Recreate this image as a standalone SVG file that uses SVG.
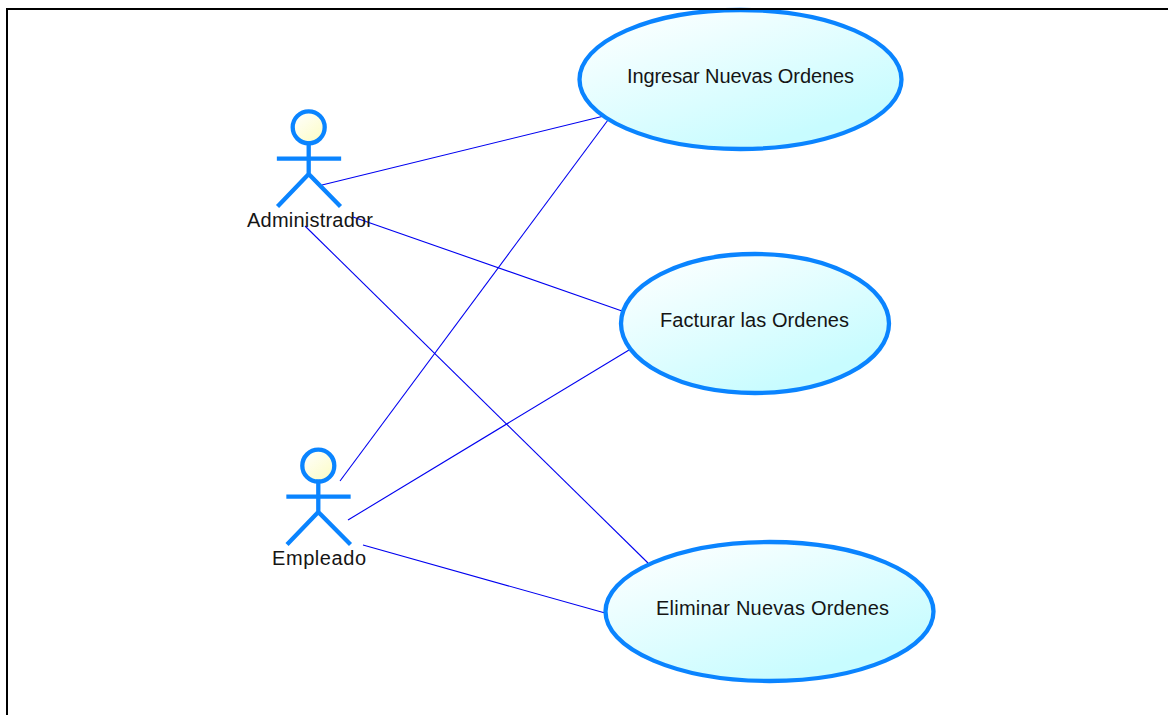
<svg xmlns="http://www.w3.org/2000/svg" width="1168" height="715" viewBox="0 0 1168 715">
<style>
.uc{stroke:#0A84FF;stroke-width:4.300;fill:url(#ucFill)}
.head{stroke:#0A84FF;stroke-width:4.300;fill:url(#headFill)}
.limb{stroke:#0A84FF;stroke-width:4.300;fill:none;stroke-linecap:square}
.conn{stroke:#0000F0;stroke-width:1.100;fill:none}
text{font-family:"Liberation Sans",Arial,sans-serif;font-size:20px;fill:#151515}
</style>
<defs>
<linearGradient id="ucFill" x1="0.1" y1="0" x2="0.85" y2="1"><stop offset="0" stop-color="#FFFFFF"/><stop offset="0.85" stop-color="#C8FCFF"/></linearGradient>
<linearGradient id="headFill" x1="0.1" y1="0" x2="0.85" y2="1"><stop offset="0" stop-color="#FFFFFF"/><stop offset="1" stop-color="#FCFCC4"/></linearGradient>
</defs>
<rect width="1168" height="715" fill="#fff"/>
<g id="connectors">
<line class="conn" x1="322" y1="185" x2="604" y2="116"/>
<line class="conn" x1="353" y1="217" x2="622" y2="311"/>
<line class="conn" x1="305" y1="226" x2="648" y2="563"/>
<line class="conn" x1="340" y1="481" x2="608" y2="120"/>
<line class="conn" x1="348" y1="520" x2="629" y2="350"/>
<line class="conn" x1="363" y1="545" x2="605" y2="613"/>
</g>
<g id="actor-administrador">
<circle class="head" cx="308.700" cy="127.300" r="16"/>
<path class="limb" d="M308.700 143.300V174M279 158.700H339M308.700 174L279 205M308.700 174L339 205"/>
<text x="247" y="227" textLength="126">Administrador</text>
</g>
<g id="actor-empleado">
<circle class="head" cx="318.300" cy="465.700" r="16"/>
<path class="limb" d="M318.300 481.700V512M288.500 496.700H348.500M318.300 512L288.500 543M318.300 512L349 543"/>
<text x="272" y="565" textLength="94">Empleado</text>
</g>
<g id="uc-ingresar">
<ellipse class="uc" cx="740.500" cy="79.500" rx="161" ry="69.500"/>
<text x="627" y="83" textLength="227">Ingresar Nuevas Ordenes</text>
</g>
<g id="uc-facturar">
<ellipse class="uc" cx="755" cy="323.500" rx="134" ry="69.500"/>
<text x="660" y="327" textLength="189">Facturar las Ordenes</text>
</g>
<g id="uc-eliminar">
<ellipse class="uc" cx="769.500" cy="611.500" rx="164" ry="69.500"/>
<text x="656" y="615" textLength="233">Eliminar Nuevas Ordenes</text>
</g>
<path id="frame" d="M7 715V9H1168" fill="none" stroke="#000" stroke-width="2"/>
</svg>
